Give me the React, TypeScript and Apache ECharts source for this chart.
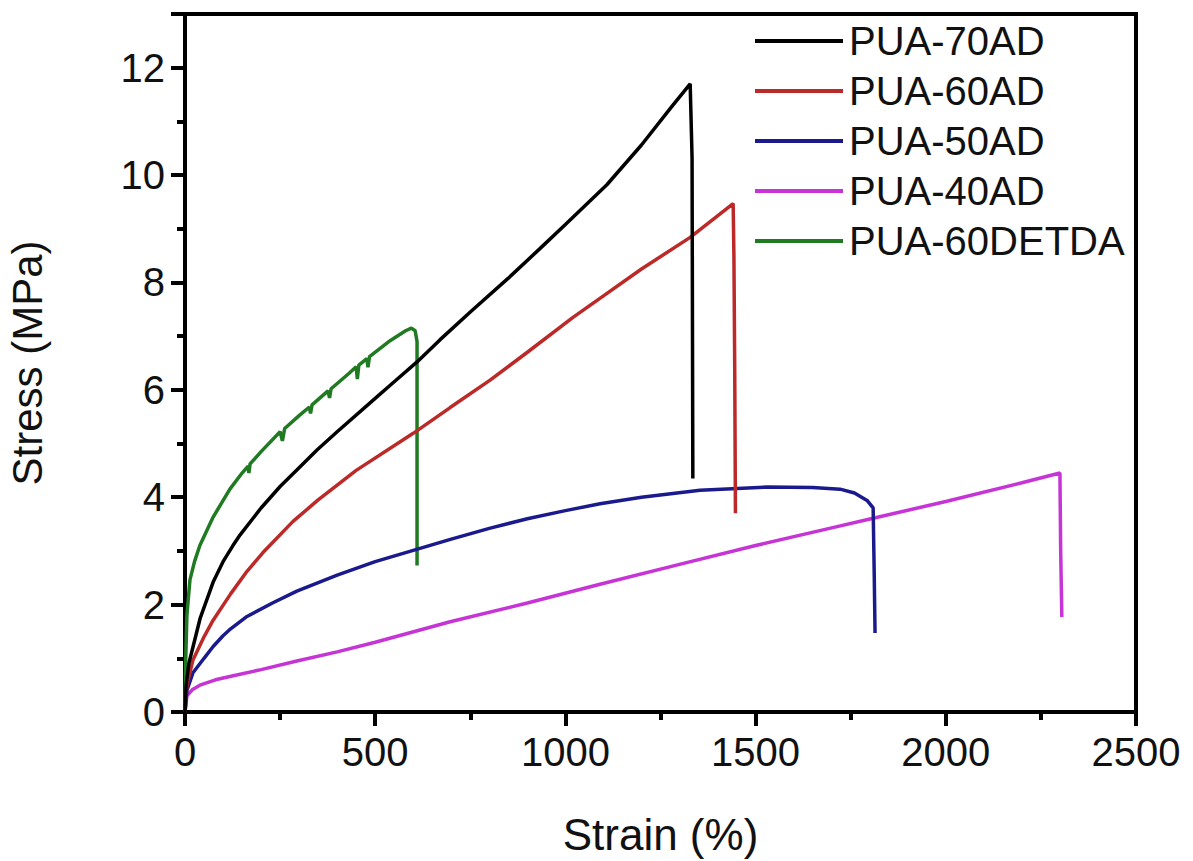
import React, { useEffect, useRef } from "react";
import * as echarts from "echarts";

const seriesNames = ["PUA-70AD", "PUA-60AD", "PUA-50AD", "PUA-40AD", "PUA-60DETDA"];
const seriesColors = ["#000000", "#bb2a28", "#1a1a8c", "#c634d6", "#1f7a22"];

const pua70AD: number[][] = [
  [0, 0], [3, 0.5], [10, 0.9], [21, 1.21], [40, 1.75], [74, 2.42], [100, 2.8], [126, 3.1],
  [145, 3.3], [200, 3.8], [250, 4.2], [300, 4.55], [347, 4.88], [400, 5.22], [500, 5.84],
  [550, 6.15], [610, 6.52], [670, 6.93], [750, 7.45], [850, 8.08], [933, 8.63], [1000, 9.08],
  [1109, 9.82], [1200, 10.56], [1280, 11.28], [1328, 11.7], [1332, 10.6], [1333, 10.3], [1335, 4.35],
];

const pua60AD: number[][] = [
  [0, 0], [5, 0.5], [21, 0.97], [50, 1.4], [74, 1.71], [120, 2.2], [163, 2.62], [205, 2.97],
  [284, 3.55], [350, 3.95], [450, 4.5], [600, 5.19], [697, 5.67], [802, 6.18], [900, 6.7],
  [1020, 7.35], [1100, 7.75], [1200, 8.25], [1328, 8.84], [1441, 9.47], [1443, 8.5],
  [1445, 6.55], [1447, 3.7],
];

const pua50AD: number[][] = [
  [0, 0], [5, 0.4], [21, 0.73], [50, 1.0], [74, 1.22], [100, 1.42], [120, 1.55], [163, 1.78],
  [230, 2.03], [294, 2.25], [400, 2.55], [500, 2.8], [600, 3.01], [700, 3.22], [800, 3.42],
  [900, 3.6], [1000, 3.75], [1091, 3.88], [1200, 4.0], [1354, 4.13], [1530, 4.19], [1650, 4.18],
  [1722, 4.15], [1760, 4.08], [1793, 3.94], [1809, 3.8], [1812, 2.5], [1814, 1.47],
];

const pua40AD: number[][] = [
  [0, 0], [5, 0.3], [20, 0.42], [39, 0.5], [80, 0.6], [118, 0.66], [200, 0.79], [294, 0.95],
  [400, 1.12], [500, 1.3], [697, 1.68], [900, 2.03], [1091, 2.38], [1300, 2.75], [1500, 3.1],
  [1700, 3.43], [1809, 3.61], [2000, 3.92], [2200, 4.27], [2300, 4.45], [2302, 3.0], [2305, 1.77],
];

const pua60DETDA: number[][] = [
  [0, 0], [2, 1.0], [5, 1.8], [13, 2.46], [25, 2.8], [39, 3.1], [74, 3.63], [118, 4.15],
  [150, 4.45], [166, 4.58], [168, 4.45], [171, 4.62], [200, 4.85], [250, 5.22], [256, 5.05],
  [262, 5.28], [300, 5.52], [327, 5.68], [330, 5.56], [334, 5.72], [376, 5.98], [380, 5.85],
  [384, 6.02], [430, 6.3], [450, 6.43], [453, 6.2], [457, 6.46], [478, 6.58], [481, 6.42],
  [485, 6.62], [540, 6.92], [580, 7.1], [595, 7.15], [605, 7.1], [610, 6.9], [610, 2.73],
];

const seriesData = [pua70AD, pua60AD, pua50AD, pua40AD, pua60DETDA];

const xTicks = { min: 0, max: 2500, interval: 500 };
const yTicks = { min: 0, max: 13, interval: 2 };

const FONT = "'Liberation Sans', Arial, sans-serif";

export default function App() {
  const ref = useRef<HTMLDivElement>(null);
  useEffect(() => {
    document.body.style.margin = "0";
    if (!ref.current) return;
    const chart = echarts.init(ref.current, null, { renderer: "svg" });
    const axisCommon = {
      axisLine: { show: true, lineStyle: { color: "#000", width: 4 } },
      axisTick: { show: true, inside: false, length: 14, lineStyle: { color: "#000", width: 4 } },
      minorTick: { show: true, splitNumber: 2, length: 8, lineStyle: { color: "#000", width: 4 } },
      splitLine: { show: false },
      minorSplitLine: { show: false },
    };
    chart.setOption({
      animation: false,
      backgroundColor: "#ffffff",
      grid: {
        left: 185, right: 57, top: 14, bottom: 149,
        outerBoundsMode: "none",
        containLabel: false,
        show: true, borderColor: "#000", borderWidth: 4, backgroundColor: "transparent",
      },
      legend: {
        orient: "vertical",
        left: 750,
        top: 14,
        icon: "rect",
        itemWidth: 88,
        itemHeight: 4,
        itemGap: 6,
        textStyle: { fontFamily: FONT, fontSize: 40, color: "#111", lineHeight: 44, padding: [0, 0, 0, 1] },
        data: seriesNames,
      },
      xAxis: {
        type: "value",
        ...xTicks,
        ...axisCommon,
        axisLabel: {
          fontFamily: FONT, fontSize: 40, color: "#111", margin: 20,
          formatter: (v: number) => String(v),
        },
        name: "Strain (%)",
        nameLocation: "middle",
        nameGap: 100,
        nameTextStyle: { fontFamily: FONT, fontSize: 44, color: "#111" },
      },
      yAxis: {
        type: "value",
        ...yTicks,
        ...axisCommon,
        axisLabel: {
          fontFamily: FONT, fontSize: 40, color: "#111", margin: 20, showMaxLabel: false,
          formatter: (v: number) => String(v),
        },
        name: "Stress (MPa)",
        nameLocation: "middle",
        nameGap: 137,
        nameTextStyle: { fontFamily: FONT, fontSize: 42, color: "#111" },
      },
      series: seriesNames.map((name, i) => ({
        name,
        type: "line",
        data: seriesData[i],
        showSymbol: false,
        symbol: "none",
        smooth: false,
        color: seriesColors[i],
        lineStyle: { color: seriesColors[i], width: 3.5 },
        z: 5 - i,
      })),
    });
    return () => chart.dispose();
  }, []);
  return <div ref={ref} style={{ width: 1193, height: 861 }} />;
}
